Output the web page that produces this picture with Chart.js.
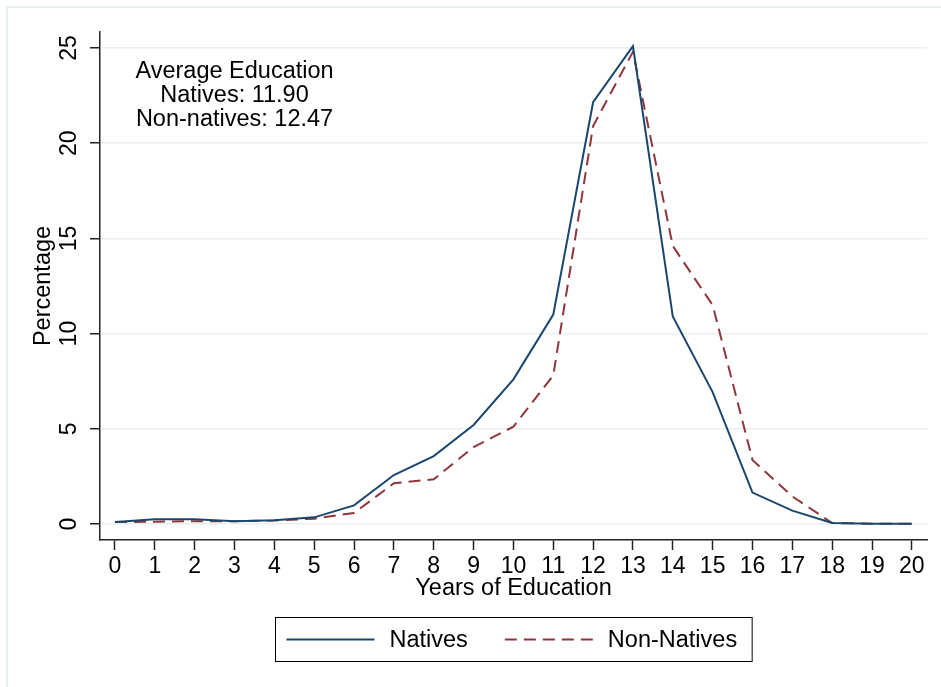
<!DOCTYPE html>
<html>
<head>
<meta charset="utf-8">
<script src="https://cdn.jsdelivr.net/npm/chart.js@4.4.0/dist/chart.umd.min.js"></script>
<style>
  html, body { margin: 0; padding: 0; background: #fff; }
  #wrap { width: 941px; height: 687px; }
</style>
</head>
<body>
<div id="wrap"><canvas id="eduChart" width="941" height="687"></canvas></div>
<script>
// data
var years = [0, 1, 2, 3, 4, 5, 6, 7, 8, 9, 10, 11, 12, 13, 14, 15, 16, 17, 18, 19, 20];
var natives = [0.1, 0.25, 0.25, 0.15, 0.2, 0.35, 0.98, 2.57, 3.57, 5.2, 7.6, 11.0, 22.15, 25.1, 10.9, 6.93, 1.65, 0.7, 0.05, 0.02, 0.02];
var nonNatives = [0.1, 0.12, 0.15, 0.15, 0.18, 0.28, 0.58, 2.14, 2.35, 4.04, 5.11, 7.8, 20.9, 24.8, 14.6, 11.5, 3.36, 1.45, 0.05, 0.02, 0.02];
var yTicks = [0, 5, 10, 15, 20, 25];
var seriesNames = ['Natives', 'Non-Natives'];
var noteLines = ['Average Education', 'Natives: 11.90', 'Non-natives: 12.47'];
var noteAt = { x: 3, y: 22.5 };

var FONT = "'Liberation Sans', Arial, sans-serif";
var AXIS = '#222222';

function toPoints(vals) {
  return years.map(function (yr, i) { return { x: yr, y: vals[i] }; });
}

// light outer frame like the stata graph region
var framePlugin = {
  id: 'frame',
  beforeDraw: function (chart) {
    var ctx = chart.ctx;
    ctx.save();
    ctx.fillStyle = '#fff';
    ctx.fillRect(0, 0, chart.width, chart.height);
    ctx.strokeStyle = '#e8eff1';
    ctx.lineWidth = 2;
    ctx.beginPath();
    ctx.moveTo(7, chart.height);
    ctx.lineTo(7, 7);
    ctx.lineTo(chart.width, 7);
    ctx.stroke();
    ctx.restore();
  }
};

// y tick labels written vertically
var yLabelPlugin = {
  id: 'yLabels',
  afterDraw: function (chart) {
    var ctx = chart.ctx, ys = chart.scales.y;
    ctx.save();
    ctx.font = '23px ' + FONT;
    ctx.fillStyle = '#000';
    ctx.textAlign = 'center';
    ctx.textBaseline = 'middle';
    yTicks.forEach(function (v) {
      var py = ys.getPixelForValue(v);
      ctx.save();
      ctx.translate(ys.right - 30, py);
      ctx.rotate(-Math.PI / 2);
      ctx.fillText(String(v), 0, 0);
      ctx.restore();
    });
    ctx.restore();
  }
};

// text note inside the plot
var notePlugin = {
  id: 'note',
  afterDraw: function (chart) {
    var ctx = chart.ctx;
    var px = chart.scales.x.getPixelForValue(noteAt.x);
    var py = chart.scales.y.getPixelForValue(noteAt.y);
    ctx.save();
    ctx.font = '23.5px ' + FONT;
    ctx.fillStyle = '#000';
    ctx.textAlign = 'center';
    ctx.textBaseline = 'middle';
    noteLines.forEach(function (t, i) {
      ctx.fillText(t, px, py + (i - 1) * 24);
    });
    ctx.restore();
  }
};

// boxed legend under the axis
var legendPlugin = {
  id: 'boxLegend',
  afterDraw: function (chart) {
    var ctx = chart.ctx, area = chart.chartArea;
    var sample = 88, gap = 15, itemGap = 37, padL = 11, padR = 15;
    ctx.save();
    ctx.font = '23.5px ' + FONT;
    var widths = chart.data.datasets.map(function (d) { return ctx.measureText(d.label).width; });
    var total = padL + padR;
    widths.forEach(function (w, i) { total += sample + gap + w + (i > 0 ? itemGap : 0); });
    var left = Math.round((area.left + area.right) / 2 - total / 2) + 0.5;
    var top = area.bottom + 77.5;
    var h = 44;
    ctx.strokeStyle = '#000';
    ctx.lineWidth = 1;
    ctx.strokeRect(left, top, total, h);
    var cx = left + padL, cy = top + h / 2;
    chart.data.datasets.forEach(function (d, i) {
      ctx.strokeStyle = d.borderColor;
      ctx.lineWidth = d.borderWidth;
      ctx.setLineDash(d.borderDash || []);
      ctx.beginPath();
      ctx.moveTo(cx, cy);
      ctx.lineTo(cx + sample, cy);
      ctx.stroke();
      ctx.setLineDash([]);
      ctx.fillStyle = '#000';
      ctx.textAlign = 'left';
      ctx.textBaseline = 'middle';
      ctx.fillText(d.label, cx + sample + gap, cy + 1);
      cx += sample + gap + widths[i] + itemGap;
    });
    ctx.restore();
  }
};

new Chart(document.getElementById('eduChart'), {
  type: 'line',
  data: {
    datasets: [{
      label: seriesNames[0],
      data: toPoints(natives),
      borderColor: '#1a476f',
      borderWidth: 2,
      pointRadius: 0,
      fill: false
    }, {
      label: seriesNames[1],
      data: toPoints(nonNatives),
      borderColor: '#90353b',
      borderWidth: 2,
      borderDash: [12, 7],
      pointRadius: 0,
      fill: false
    }]
  },
  options: {
    responsive: false,
    animation: false,
    layout: { padding: { left: 0, top: 32, right: 14, bottom: 77 } },
    plugins: {
      legend: { display: false },
      tooltip: { enabled: false }
    },
    scales: {
      x: {
        type: 'linear',
        min: -0.376,
        max: 20.38,
        afterBuildTicks: function (s) { s.ticks = years.map(function (v) { return { value: v }; }); },
        afterFit: function (s) { s.height = 70; },
        grid: { drawOnChartArea: false, drawTicks: true, tickLength: 10, tickColor: AXIS, tickWidth: 1.5 },
        border: { color: AXIS, width: 1.5 },
        ticks: { color: '#000', font: { family: FONT, size: 23 }, padding: 3, maxRotation: 0, autoSkip: false },
        title: { display: true, text: 'Years of Education', color: '#000', font: { family: FONT, size: 23.5 }, padding: { top: 0, bottom: 7 } }
      },
      y: {
        min: -0.84,
        max: 25.84,
        afterBuildTicks: function (s) { s.ticks = yTicks.map(function (v) { return { value: v }; }); },
        afterFit: function (s) { s.width = 100; },
        grid: { color: '#e9f0f2', lineWidth: 1.5, drawTicks: true, tickLength: 10, tickColor: AXIS, tickWidth: 1.5 },
        border: { color: AXIS, width: 1.5 },
        ticks: { display: false },
        title: { display: true, text: 'Percentage', color: '#000', font: { family: FONT, size: 23.5 }, padding: { top: 29, bottom: 0 } }
      }
    }
  },
  plugins: [framePlugin, yLabelPlugin, notePlugin, legendPlugin]
});
</script>
</body>
</html>
